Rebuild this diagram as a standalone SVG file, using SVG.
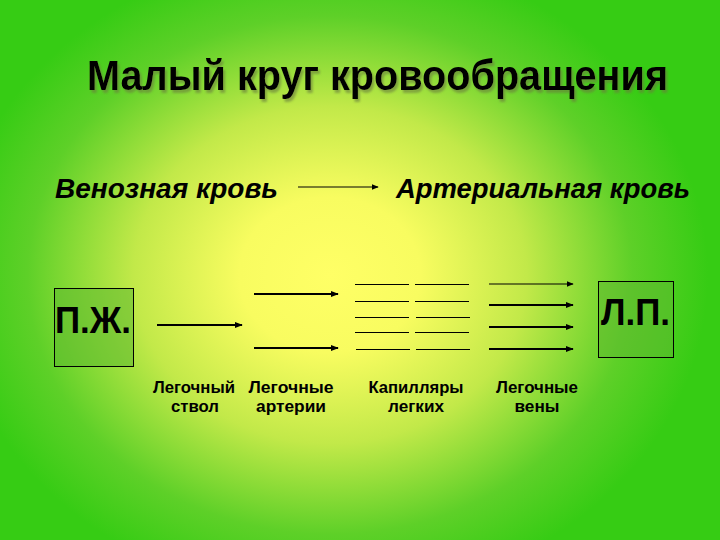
<svg xmlns="http://www.w3.org/2000/svg" width="720" height="540" viewBox="0 0 720 540">
<defs>
<radialGradient id="bg" gradientUnits="userSpaceOnUse" cx="330" cy="275" r="360" gradientTransform="translate(330 275) scale(1.05 0.9) translate(-330 -275)">
<stop offset="0" stop-color="#ffff66"/>
<stop offset="0.24" stop-color="#f8fc60"/>
<stop offset="0.52" stop-color="#c2e949"/>
<stop offset="0.8" stop-color="#5ed028"/>
<stop offset="1" stop-color="#36cc14"/>
</radialGradient>
<filter id="sh" x="-5%" y="-20%" width="110%" height="150%">
<feDropShadow dx="2" dy="3" stdDeviation="1" flood-color="#6b7d3a" flood-opacity="0.6"/>
</filter>
<marker id="ah" viewBox="0 0 10 10" refX="9" refY="5" markerWidth="4" markerHeight="4" orient="auto" markerUnits="strokeWidth">
<path d="M0,1 L10,5 L0,9 z" fill="#000"/>
</marker>
<marker id="ah2" viewBox="0 0 10 10" refX="9" refY="5" markerWidth="6" markerHeight="6" orient="auto" markerUnits="strokeWidth">
<path d="M0,1 L10,5 L0,9 z" fill="#000"/>
</marker>
</defs>
<style>
.t{font-family:"Liberation Sans",Arial,sans-serif;fill:#000}
.title{font-size:42px;font-weight:bold}
.sub{font-size:28px;font-weight:bold;font-style:italic}
.box{fill:#5cb830;fill-opacity:0.55;stroke:#000;stroke-width:1}
.big{font-size:36px;font-weight:bold}
.lbl{font-size:16.5px;font-weight:bold}
.a{stroke:#000;stroke-width:2;fill:none;marker-end:url(#ah)}
.a1{stroke:#000;stroke-width:1.2;fill:none;marker-end:url(#ah2)}
.c{stroke:#000;stroke-width:1;fill:none}
</style>
<rect width="720" height="540" fill="url(#bg)"/>
<g id="title">
<text class="t title" x="87" y="90" filter="url(#sh)" textLength="581" lengthAdjust="spacingAndGlyphs">Малый круг кровообращения</text>
</g>
<g id="venous"><text class="t sub" x="55" y="198" textLength="223" lengthAdjust="spacingAndGlyphs">Венозная кровь</text></g>
<g id="arterial"><text class="t sub" x="396" y="198" textLength="294" lengthAdjust="spacingAndGlyphs">Артериальная кровь</text></g>
<g id="pzh">
<rect class="box" x="54.5" y="288.5" width="79" height="78"/>
<text class="t big" x="55" y="333" textLength="76" lengthAdjust="spacingAndGlyphs">П.Ж.</text>
</g>
<g id="lp">
<rect class="box" x="598.5" y="281.5" width="75" height="76"/>
<text class="t big" x="601" y="325" textLength="69" lengthAdjust="spacingAndGlyphs">Л.П.</text>
</g>
<g id="labels">
<text class="t lbl" x="194" y="393" text-anchor="middle" textLength="82" lengthAdjust="spacingAndGlyphs">Легочный</text>
<text class="t lbl" x="195" y="412" text-anchor="middle" textLength="48" lengthAdjust="spacingAndGlyphs">ствол</text>
<text class="t lbl" x="291" y="393" text-anchor="middle" textLength="85" lengthAdjust="spacingAndGlyphs">Легочные</text>
<text class="t lbl" x="291" y="412" text-anchor="middle" textLength="70" lengthAdjust="spacingAndGlyphs">артерии</text>
<text class="t lbl" x="416" y="393" text-anchor="middle" textLength="95" lengthAdjust="spacingAndGlyphs">Капилляры</text>
<text class="t lbl" x="416" y="412" text-anchor="middle" textLength="56" lengthAdjust="spacingAndGlyphs">легких</text>
<text class="t lbl" x="537" y="393" text-anchor="middle" textLength="82" lengthAdjust="spacingAndGlyphs">Легочные</text>
<text class="t lbl" x="537" y="412" text-anchor="middle" textLength="45" lengthAdjust="spacingAndGlyphs">вены</text>
</g>
<g id="connectors">
<line class="a1" x1="298" y1="187" x2="378" y2="187"/>
<line class="a" x1="157" y1="325" x2="242" y2="325"/>
<line class="a" x1="254" y1="294" x2="338" y2="294"/>
<line class="a" x1="254" y1="348" x2="338" y2="348"/>
<line class="c" x1="355" y1="284.5" x2="409" y2="284.5"/>
<line class="c" x1="415" y1="284.5" x2="469" y2="284.5"/>
<line class="c" x1="355" y1="301.5" x2="409" y2="301.5"/>
<line class="c" x1="415" y1="301.5" x2="469" y2="301.5"/>
<line class="c" x1="355" y1="317.5" x2="409" y2="317.5"/>
<line class="c" x1="416" y1="317.5" x2="470" y2="317.5"/>
<line class="c" x1="355" y1="332.5" x2="409" y2="332.5"/>
<line class="c" x1="415" y1="332.5" x2="469" y2="332.5"/>
<line class="c" x1="356" y1="349.5" x2="410" y2="349.5"/>
<line class="c" x1="416" y1="349.5" x2="470" y2="349.5"/>
<line class="a1" x1="489" y1="284" x2="573" y2="284"/>
<line class="a" x1="489" y1="305" x2="573" y2="305"/>
<line class="a" x1="489" y1="327" x2="573" y2="327"/>
<line class="a" x1="489" y1="349" x2="573" y2="349"/>
</g>
</svg>
